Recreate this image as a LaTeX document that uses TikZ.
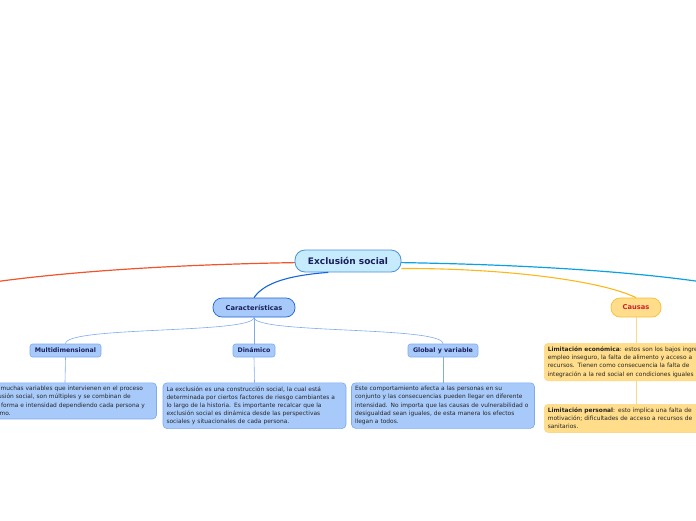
\documentclass[tikz,border=0pt]{standalone}
\usepackage{fontspec}
\setmainfont{DejaVu Sans}
\usetikzlibrary{calc}
\definecolor{rootfill}{HTML}{C6EBFC}
\definecolor{rootline}{HTML}{4A90D9}
\definecolor{bluefill}{HTML}{A8CAFA}
\definecolor{blueline}{HTML}{1E63D6}
\definecolor{subline}{HTML}{7FAAF0}
\definecolor{navy}{HTML}{1A1F5C}
\definecolor{yelfill}{HTML}{FFDD8A}
\definecolor{yelline}{HTML}{F7BE34}
\definecolor{yelthin}{HTML}{FCD98A}
\definecolor{causred}{HTML}{D0202E}
\definecolor{branchred}{HTML}{F0542A}
\definecolor{branchblue}{HTML}{0AA1E2}
\definecolor{branchyel}{HTML}{FCB81A}
\definecolor{branchdark}{HTML}{1565D8}
\tikzset{
  root/.style={draw=rootline,fill=rootfill,rounded corners=10pt,minimum width=106pt,minimum height=22pt,
    text=navy,font=\fontsize{9}{10}\selectfont\bfseries,line width=0.8pt},
  topic/.style={draw=blueline,fill=bluefill,rounded corners=9pt,minimum width=82pt,minimum height=19pt,
    text=navy,font=\fontsize{6.7}{8}\selectfont\bfseries,line width=0.7pt},
  causa/.style={draw=yelline,fill=yelfill,rounded corners=9pt,minimum width=50pt,minimum height=19pt,
    text=causred,font=\fontsize{6.7}{8}\selectfont\bfseries,line width=0.7pt},
  sub/.style={draw=subline,fill=bluefill,rounded corners=2.5pt,minimum height=13pt,inner xsep=2pt,
    text=navy,font=\fontsize{6.3}{7.5}\selectfont\bfseries,line width=0.6pt},
  txtbox/.style={draw=subline,fill=bluefill,rounded corners=4pt,inner xsep=3.5pt,inner ysep=3.5pt,
    align=left,text width=176pt,text=black!85,font=\fontsize{5.9}{8.2}\selectfont,line width=0.6pt},
  yelbox/.style={txtbox,draw=yelthin,fill=yelfill},
  thin/.style={subline,line width=0.6pt},
  thinyel/.style={yelthin,line width=0.8pt}
}
\begin{document}
\begin{tikzpicture}[x=1pt,y=-1pt]
  \useasboundingbox (0,0) rectangle (696,520);
  \clip (0,0) rectangle (696,520);
  \coordinate (offL) at (-20,284);
  \coordinate (offR) at (716,284);
  % main branches
  \draw[branchred,line width=1.2pt] (348,262) .. controls (180,263) and (60,272) .. (offL);
  \draw[branchblue,line width=1.2pt] (348,262) .. controls (520,263) and (640,272) .. (offR);
  \node[root] (excl) at (348,261) {Exclusión social};
  \node[topic] (carac) at (254,307.5) {Características};
  \node[causa] (causas) at (636,307.5) {Causas};
  \draw[branchyel,line width=1.1pt] (excl.-8) .. controls (500,268) and (600,280) .. (causas.north);
  \draw[branchdark,line width=1.1pt] (excl.-150) .. controls (280,276) and (262,286) .. (carac.north);
  % caracteristicas
  \node[sub,minimum width=71pt] (multi) at (65.5,350.5) {Multidimensional};
  \node[sub,minimum width=42pt] (dina) at (254,350.5) {Dinámico};
  \node[sub,minimum width=70pt] (glob) at (443,350.5) {Global y variable};
  \draw[thin] (carac.south) .. controls (254,334) and (65.5,326) .. (multi.north);
  \draw[thin] (carac.south) -- (dina.north);
  \draw[thin] (carac.south) .. controls (254,334) and (443,326) .. (glob.north);
  \node[txtbox,anchor=north] (multitxt) at (65,382.5) {Existen muchas variables que intervienen en el proceso\\
    de exclusión social, son múltiples y se combinan de\\
    distinta forma e intensidad dependiendo cada persona y\\
    a sí mismo.};
  \node[txtbox,anchor=north] (dinatxt) at (254.5,382.5) {La exclusión es una construcción social, la cual está\\
    determinada por ciertos factores de riesgo cambiantes a\\
    lo largo de la historia. Es importante recalcar que la\\
    exclusión social es dinámica desde las perspectivas\\
    sociales y situacionales de cada persona.};
  \node[txtbox,anchor=north] (globtxt) at (443,382.5) {Este comportamiento afecta a las personas en su\\
    conjunto y las consecuencias pueden llegar en diferente\\
    intensidad. No importa que las causas de vulnerabilidad o\\
    desigualdad sean iguales, de esta manera los efectos\\
    llegan a todos.};
  \draw[thin] (multi.south) -- (multitxt.north);
  \draw[thin] (dina.south) -- (dinatxt.north);
  \draw[thin] (glob.south) -- (globtxt.north);
  % causas
  \node[yelbox,anchor=north west] (econ) at (544,343) {\textbf{Limitación económica}: estos son los bajos ingresos,\\
    empleo inseguro, la falta de alimento y acceso a\\
    recursos. Tienen como consecuencia la falta de\\
    integración a la red social en condiciones iguales};
  \node[yelbox,anchor=north west] (pers) at (544,404) {\textbf{Limitación personal}: esto implica una falta de\\
    motivación; dificultades de acceso a recursos de\\
    sanitarios.};
  \draw[thinyel] (causas.south) -- (causas.south |- econ.north);
  \draw[thinyel] (econ.south -| causas) -- (pers.north -| causas);
\end{tikzpicture}
\end{document}
